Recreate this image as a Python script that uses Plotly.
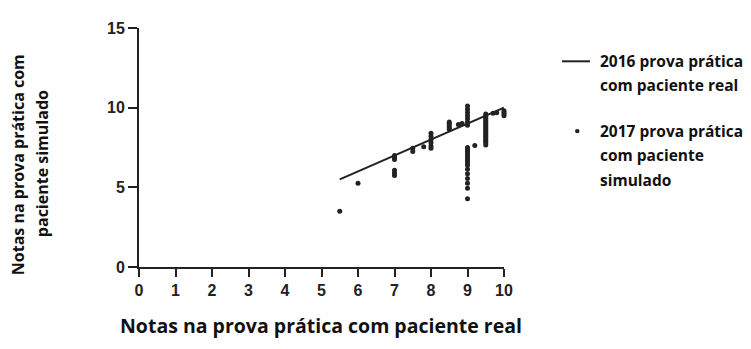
import plotly.graph_objects as go

# 2016 line (paciente real)
line_x = [5.5, 10]
line_y = [5.5, 10]

# 2017 points (paciente simulado)
x7 = [7, 7, 7, 7, 7, 7]
y7 = [7.0, 6.85, 6.75, 6.07, 5.9, 5.74]
x8 = [8, 8, 8, 8, 8, 8]
y8 = [8.4, 8.2, 8.0, 7.8, 7.6, 7.45]
x85 = [8.5, 8.5, 8.5, 8.5, 8.5, 8.75, 8.85]
y85 = [9.1, 9.0, 8.9, 8.75, 8.65, 8.95, 9.0]
x9 = [9] * 22
y9 = [10.1, 9.9, 9.7, 9.5, 9.3, 9.1, 8.9,
      7.5, 7.37, 7.25, 7.1, 6.96, 6.83, 6.69, 6.54, 6.38, 6.13, 5.86, 5.56, 5.25, 4.94, 4.28]
x95 = [9.5] * 20
y95 = [9.6, 9.5, 9.4, 9.3, 9.2, 9.1, 9.0, 8.9, 8.8, 8.7, 8.6, 8.5, 8.4, 8.3, 8.2, 8.1, 8.0, 7.9, 7.8, 7.65]
xo = [5.5, 6, 7.5, 7.5, 7.8, 9.2, 9.7, 9.8, 10, 10, 10, 10]
yo = [3.5, 5.25, 7.45, 7.25, 7.55, 7.62, 9.65, 9.68, 9.8, 9.7, 9.6, 9.5]

sim_x = x7 + x8 + x85 + x9 + x95 + xo
sim_y = y7 + y8 + y85 + y9 + y95 + yo

x_ticks = list(range(0, 11))
y_ticks = [0, 5, 10, 15]

legend_lines_2016 = ["2016 prova prática", "com paciente real"]
legend_lines_2017 = ["2017 prova prática", "com paciente", "simulado"]
x_title = "Notas na prova prática com paciente real"
y_title_lines = ["Notas na prova prática com", "paciente simulado"]

OFF = 8  # page body margin
W, H = 751 - OFF, 349 - OFF
L, T, R, B = 131, 15, 247, 82
pw, ph = W - L - R, H - T - B

def page2paper(px, py):
    fx, fy = px - OFF, py - OFF
    return (fx - L) / pw, (H - B - fy) / ph

ink = "#222222"
fig = go.Figure()
fig.add_trace(go.Scatter(x=line_x, y=line_y, mode="lines",
                         line=dict(color=ink, width=2), name=" ".join(legend_lines_2016),
                         cliponaxis=False))
fig.add_trace(go.Scatter(x=sim_x, y=sim_y, mode="markers",
                         marker=dict(color=ink, size=5), name=" ".join(legend_lines_2017),
                         cliponaxis=False))

tickfont = dict(family="Liberation Sans, Arial", size=16, color=ink, weight=700)
fig.update_layout(
    width=W, height=H,
    margin=dict(l=L, r=R, t=T, b=B),
    paper_bgcolor="white", plot_bgcolor="white",
    showlegend=False,
    xaxis=dict(range=[0, 10], tickvals=x_ticks, showgrid=False, zeroline=False,
               showline=True, linecolor=ink, linewidth=2, ticks="outside",
               ticklen=8, tickwidth=2, tickcolor=ink, tickfont=tickfont),
    yaxis=dict(range=[0, 15], tickvals=y_ticks, showgrid=False, zeroline=False,
               showline=True, linecolor=ink, linewidth=2, ticks="outside",
               ticklen=9, tickwidth=2, tickcolor=ink, tickfont=tickfont),
)

xfont = dict(family="Open Sans", size=19.5, color="#111111", weight="bold")
yfont = dict(family="Open Sans", size=16, color="#111111", weight="bold")
lfont = dict(family="Open Sans", size=15.5, color="#111111", weight="bold")

ann = []
x, y = page2paper(321, 327)
ann.append(dict(text=x_title, x=x, y=y, xanchor="center", yanchor="middle", font=xfont))
for txt, px in zip(y_title_lines, [18, 42]):
    x, y = page2paper(px, 162)
    ann.append(dict(text=txt, x=x, y=y, textangle=-90, xanchor="center", yanchor="middle", font=yfont))
for txt, py in zip(legend_lines_2016 + legend_lines_2017, [57, 81, 128, 153, 178]):
    x, y = page2paper(598, py)
    ann.append(dict(text=txt, x=x, y=y, xanchor="left", yanchor="middle", font=lfont))
for a in ann:
    a.update(xref="paper", yref="paper", showarrow=False)
fig.update_layout(annotations=ann)

x0, y0 = page2paper(562, 57)
x1, _ = page2paper(590, 57)
sx0, sy0 = page2paper(575, 130.5)
sx1, sy1 = page2paper(579.5, 126)
fig.update_layout(shapes=[
    dict(type="line", xref="paper", yref="paper", x0=x0, y0=y0, x1=x1, y1=y0,
         line=dict(color=ink, width=2)),
    dict(type="circle", xref="paper", yref="paper", x0=sx0, y0=sy0, x1=sx1, y1=sy1,
         fillcolor=ink, line=dict(width=0)),
])

fig.write_html("out.html")
